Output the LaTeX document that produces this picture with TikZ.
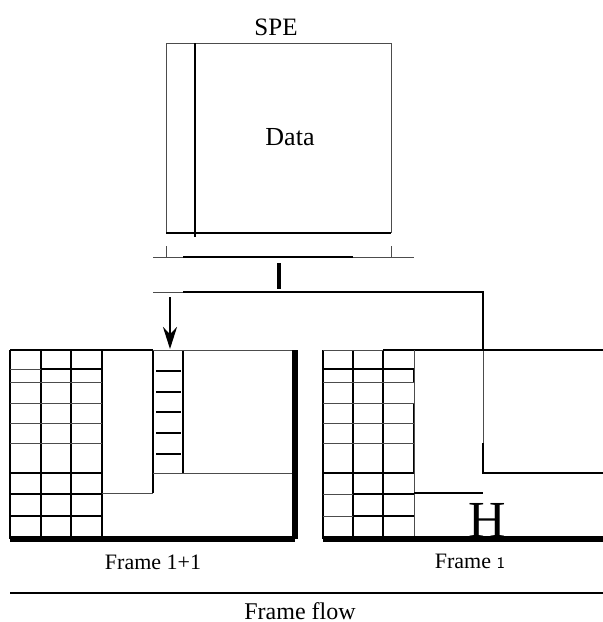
\documentclass[tikz,border=0pt]{standalone}
\usepackage{fontspec}
\setmainfont{Liberation Serif}
\usepackage{tikz}
\usetikzlibrary{arrows.meta}
\tikzset{
    thinline/.style={
        line width=0.5pt,
        black!70
    },
    thickline/.style={
        line width=1.1pt,
        black
    },
    heavyline/.style={
        line width=2.6pt,
        black
    },
    % 向下箭头
    downarrow/.style={
        line width=1.2pt,
        black,
        ->,
        >={Stealth[length=11pt, width=7pt]}
    }
}

\begin{document}
\begin{tikzpicture}[x=0.5pt,y=-0.5pt]
	\useasboundingbox (0,0) rectangle (603,622);
	
	\path 
	(170,297) coordinate (a1)
	(170,349) coordinate (a2);
	
	% SPE 方框
	\draw[thinline] (166,233) -- (166,43) -- (391,43) -- (391,233);
	\draw[thickline] (166,233) -- (391,233);
	\draw[thickline] (195,43) -- (195,237);
	\draw[thinline] (166,246) -- (166,257) (391,246) -- (391,257);
	\draw[thinline] (153,257) -- (414,257);
	\draw[thickline] (183,257) -- (353,257);
	\draw[line width=1.6pt] (279,263) -- (279,289);
	
	% 路线
	\draw[thinline] (153,292) -- (183,292);
	\draw[thickline] (183,292) -- (483,292) -- (483,350);
	\draw[thinline] (483,350) -- (483,443);
	\draw[thickline] (483,443) -- (483,473) -- (603,473);
	\draw[downarrow] (a1) to (a2);
	
	% 帧 1+1
	\draw[thickline] 
	(10,350) -- (10,539)
	(41,350) -- (41,539)
	(71,350) -- (71,539)
	(102,350) -- (102,539)
	(10,350) -- (153,350)
	(41,369) -- (102,369)
	(10,473) -- (102,473)
	(10,494) -- (102,494)
	(10,516) -- (102,516)
	(153,350) -- (153,493)
	(183,350) -- (183,473);
	\draw[thinline] 
	(10,369) -- (41,369)
	(10,382) -- (102,382)
	(10,403) -- (102,403)
	(10,423) -- (102,423)
	(10,443) -- (102,443)
	(102,493) -- (153,493)
	(153,350) -- (295,350)
	(153,473) -- (295,473);
	\draw[thickline] 
	(156,371) -- (181,371)
	(156,392) -- (181,392)
	(156,412) -- (181,412)
	(156,433) -- (181,433)
	(156,454) -- (181,454);
	\draw[heavyline] (295,350) -- (295,539) (10,539) -- (295,539);
	
	% 帧 1
	\draw[thickline] 
	(323,350) -- (323,539)
	(353,350) -- (353,539)
	(383,350) -- (383,539)
	(383,350) -- (603,350)
	(323,369) -- (414,369)
	(323,473) -- (414,473)
	(353,494) -- (414,494)
	(353,516) -- (414,516)
	(414,369) -- (414,382)
	(414,403) -- (414,473);
	\draw[thinline] 
	(323,350) -- (383,350)
	(414,350) -- (414,539)
	(323,382) -- (414,382)
	(323,403) -- (414,403)
	(323,423) -- (414,423)
	(323,443) -- (414,443)
	(323,494) -- (353,494)
	(323,516) -- (353,516);
	\draw[line width=0.8pt] (414,493) -- (483,493);
	\draw[heavyline] (323,539) -- (603,539);
	
	% 帧流
	\draw[thickline] (10,593) -- (603,593);
	
	% 文字标注
	\node (spe) at (276,27) {\fontsize{12.5}{15}\selectfont SPE};
	\node (data) at (290,137) {\fontsize{13}{15}\selectfont Data};
	\node[anchor=base] (hdr) at (487,537) {\fontsize{26}{30}\selectfont H};
	\node (frameB) at (153,562) {\fontsize{11}{13}\selectfont Frame 1+1};
	\node (frameA) at (470,561) {\fontsize{11}{13}\selectfont Frame {\fontsize{8}{10}\selectfont\sffamily 1}};
	\node (flow) at (300,611) {\fontsize{12}{14}\selectfont Frame flow};
\end{tikzpicture}
\end{document}
